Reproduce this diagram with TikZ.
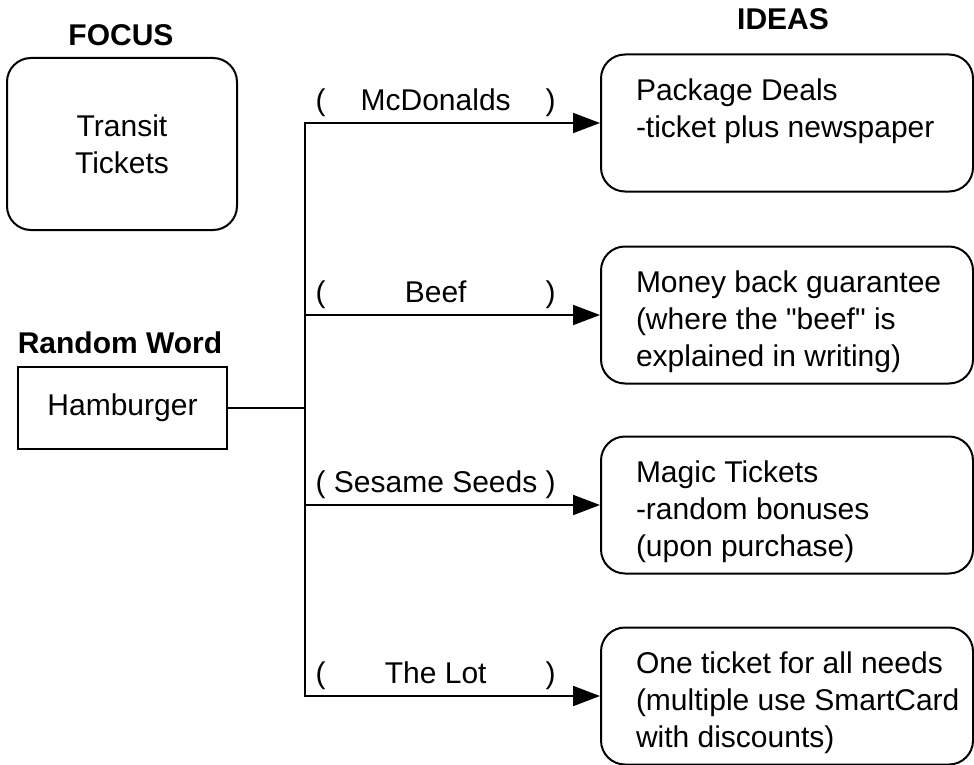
\documentclass[tikz,border=0pt]{standalone}
\usepackage{fontspec}
\setmainfont{Liberation Sans}[Ligatures=TeXOff]
\usetikzlibrary{arrows.meta}

\tikzset{
  roundbox/.style={draw, line width=1pt, rounded corners=12pt, inner sep=0pt},
  wordbox/.style={draw, line width=1pt, inner sep=0pt, minimum width=104.5pt, minimum height=41pt},
  ideabox/.style={roundbox, minimum width=186pt, minimum height=68.5pt},
  branch/.style={line width=1pt, -{Triangle[length=13.5pt,width=10pt]}},
  tag/.style={above, inner sep=2.5pt, pos=0.443},
  heading/.style={font=\fontsize{15}{18.5}\selectfont\bfseries}
}
\newcommand\ideatext[1]{\makebox[186pt][l]{\hspace{17.5pt}\parbox[c][44pt][t]{178pt}{#1}}}
\newcommand\tagtext[1]{\makebox[120pt]{(\hfill #1\hfill)}}

\begin{document}
\begin{tikzpicture}[x=0.5pt, y=-0.5pt, font=\fontsize{15}{18.5}\selectfont]
  \useasboundingbox (0,0) rectangle (974,765);
  % focus and random word
  \node[heading] (focushead) at (121,35) {FOCUS};
  \node[roundbox, minimum width=115pt, minimum height=86pt, align=center] (focus) at (122,144) {Transit\\Tickets};
  \node[heading] (wordhead) at (120,343) {Random Word};
  \node[wordbox] (word) at (122.5,408) {Hamburger};
  % ideas
  \node[heading] (ideahead) at (783,19) {IDEAS};
  \node[ideabox] (idea1) at (787,123) {\ideatext{Package Deals\\-ticket plus newspaper}};
  \node[ideabox] (idea2) at (787,315) {\ideatext{Money back guarantee\\(where the "beef" is\\explained in writing)}};
  \node[ideabox] (idea3) at (787,505) {\ideatext{Magic Tickets\\-random bonuses\\(upon purchase)}};
  \node[ideabox] (idea4) at (787,696) {\ideatext{One ticket for all needs\\(multiple use SmartCard\\with discounts)}};
  % trunk and branches
  \coordinate (t1) at (305,123);
  \coordinate (t2) at (305,315);
  \coordinate (t3) at (305,505);
  \coordinate (t4) at (305,696);
  \draw[line width=1pt] (word.east) -- (word.east -| t1);
  \draw[line width=1pt, line cap=rect] (t1) -- (t4);
  \draw[branch] (t1) -- node[tag] {\tagtext{McDonalds}} (idea1.west);
  \draw[branch] (t2) -- node[tag] {\tagtext{Beef}} (idea2.west);
  \draw[branch] (t3) -- node[tag] {\tagtext{Sesame Seeds}} (idea3.west);
  \draw[branch] (t4) -- node[tag] {\tagtext{The Lot}} (idea4.west);
\end{tikzpicture}
\end{document}
